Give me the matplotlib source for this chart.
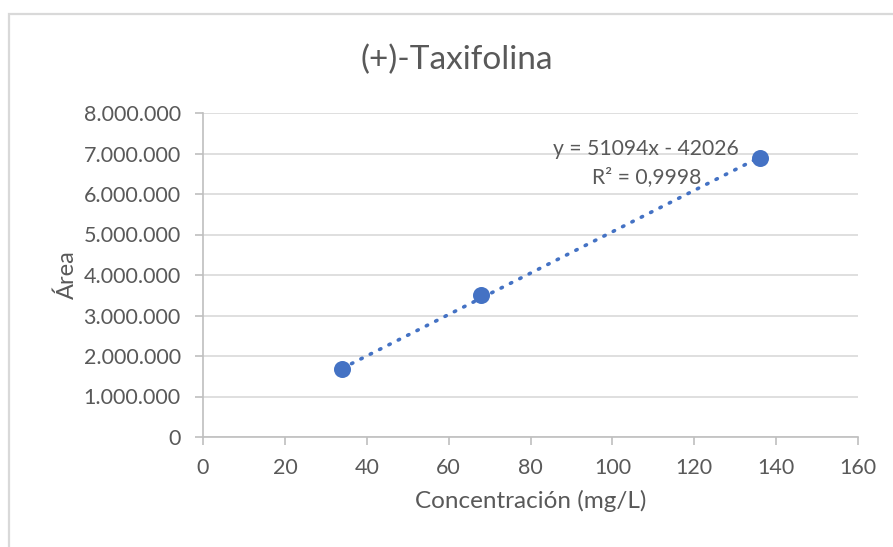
import numpy as np
import matplotlib.pyplot as plt
from matplotlib.patches import Rectangle
from matplotlib.ticker import FuncFormatter

# calibration data
conc = [34, 68, 136]
area = [1670000, 3500000, 6900000]
slope = 51094
intercept = -42026
r2_text = '0,9998'

x_ticks = [0, 20, 40, 60, 80, 100, 120, 140, 160]
y_ticks = [0, 1e6, 2e6, 3e6, 4e6, 5e6, 6e6, 7e6, 8e6]

blue = '#4472C4'
txt = '#595959'
grid = '#D9D9D9'

plt.rcParams['font.family'] = ['Lato', 'DejaVu Sans']

fig = plt.figure(figsize=(8.93, 5.47), dpi=100)
# excel chart-area border (only left and top visible in the crop)
fig.patches.append(Rectangle((9 / 893, -0.1), 1.2, 1.1 - 13.5 / 547,
                             transform=fig.transFigure, fill=False,
                             edgecolor='#D9D9D9', linewidth=1.6))

ax = fig.add_axes([203 / 893, 1 - 437 / 547, 655 / 893, 324 / 547])
ax.set_xlim(0, 160)
ax.set_ylim(0, 8e6)
ax.set_xticks(x_ticks)
ax.set_yticks(y_ticks)
ax.yaxis.set_major_formatter(FuncFormatter(lambda v, p: f'{int(v):,}'.replace(',', '.')))

ax.grid(axis='y', color=grid, linewidth=1.2)
ax.set_axisbelow(True)
for s in ['top', 'right']:
    ax.spines[s].set_visible(False)
for s in ['left', 'bottom']:
    ax.spines[s].set_color('#BFBFBF')
    ax.spines[s].set_linewidth(1.2)
ax.tick_params(axis='both', colors='#BFBFBF', labelcolor=txt, labelsize=15.5,
               length=6, width=1.2)
ax.tick_params(axis='x', pad=9)
ax.tick_params(axis='y', pad=10)

# trendline
xt = np.array([min(conc), max(conc)])
ax.plot(xt, slope * xt + intercept, color=blue, linewidth=2.6,
        linestyle=(0, (0.4, 2.5)), dash_capstyle='round', zorder=2)
ax.scatter(conc, area, s=150, color=blue, zorder=3, linewidths=0)

ax.text(108.3, 6.77e6, f'y = {slope}x - {abs(intercept)}\nR² = {r2_text}',
        ha='center', va='center', color=txt, fontsize=15.2, linespacing=1.5)

ax.set_xlabel('Concentración (mg/L)', color=txt, fontsize=17.5, labelpad=9)
ax.set_ylabel('Área', color=txt, fontsize=17, labelpad=4)
fig.text(457 / 893, 1 - 60 / 547, '(+)-Taxifolina', ha='center', va='center',
         color=txt, fontsize=24)

fig.savefig('out.png', dpi=100)
